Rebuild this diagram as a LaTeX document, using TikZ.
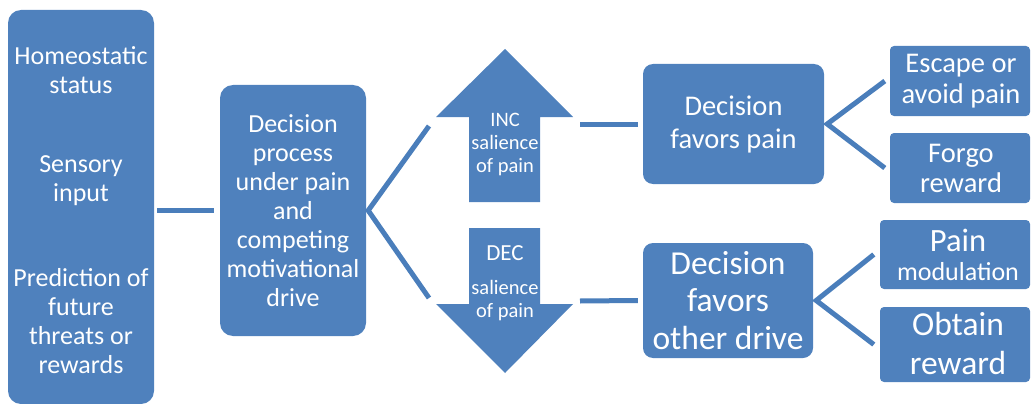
\documentclass[tikz,border=0pt]{standalone}
\usepackage{fontspec}
\setmainfont{Carlito}
\definecolor{boxblue}{HTML}{4F81BD}
\definecolor{lineblue}{HTML}{4A7EBB}
\newcommand\fsz[2]{\fontsize{#1}{#2}\selectfont}
\begin{document}
\begin{tikzpicture}[x=1pt,y=-1pt,
  blk/.style={fill=boxblue, inner sep=0pt},
  txt/.style={text=white, inner sep=0pt, align=center},
  conn/.style={draw=lineblue, line width=5pt}]
\useasboundingbox (0,0) rectangle (1031,404);
% boxes
\node[blk, rounded corners=13pt, minimum width=146pt, minimum height=394pt] (L) at (81,207) {};
\node[blk, rounded corners=13pt, minimum width=146pt, minimum height=251pt] (M) at (293,210.5) {};
\node[blk, rounded corners=10pt, minimum width=181pt, minimum height=120pt] (P) at (733.5,124) {};
\node[blk, rounded corners=10pt, minimum width=170pt, minimum height=115pt] (O) at (728,300.5) {};
\node[blk, rounded corners=4pt, minimum width=140pt, minimum height=70pt] (E) at (960,81) {};
\node[blk, rounded corners=4pt, minimum width=140pt, minimum height=70pt] (F) at (960,168) {};
\node[blk, rounded corners=4pt, minimum width=150pt, minimum height=69pt] (PM) at (955,254.5) {};
\node[blk, rounded corners=4pt, minimum width=150pt, minimum height=75pt] (OR) at (955,344.5) {};
% arrows
\fill[boxblue] (505,49) -- (573,117) -- (540,117) -- (540,202) -- (469,202) -- (469,117) -- (436,117) -- cycle;
\fill[boxblue] (469,228) -- (540,228) -- (540,304) -- (573,304) -- (505,373) -- (436,304) -- (469,304) -- cycle;
% texts
\node[txt, font=\fsz{26}{29}] (L1) at (81,70.5) {Homeostatic\\status};
\node[txt, font=\fsz{26}{29}] (L2) at (81,181) {Sensory\\input};
\node[txt, font=\fsz{26}{29}] (L3) at (81,321) {Prediction of\\future\\threats or\\rewards};
\node[txt, font=\fsz{26}{29}] (MT) at (M.center) {Decision\\process\\under pain\\and\\competing\\motivational\\drive};
\node[txt, font=\fsz{20.5}{23}] (UT) at (505,144) {INC\\salience\\of pain};
\node[txt, font=\fsz{23}{26}] (DT1) at (505,253) {DEC};
\node[txt, font=\fsz{20.5}{23}] (DT2) at (505,300.5) {salience\\of pain};
\node[txt, font=\fsz{28.5}{33}] (PT) at (P.center) {Decision\\favors pain};
\node[txt, font=\fsz{33.5}{37.5}] (OT) at (O.center) {Decision\\favors\\other drive};
\node[txt, font=\fsz{28.5}{31}] (ET) at (961,81) {Escape or\\avoid pain};
\node[txt, font=\fsz{28.5}{30}] (FT) at (961,168) {Forgo\\reward};
\node[txt, font=\fsz{32.5}{32}] (PMT1) at (958,240) {Pain};
\node[txt, font=\fsz{26}{30}] (PMT2) at (958,272) {modulation};
\node[txt, font=\fsz{33.5}{39}] (ORT) at (958,343) {Obtain\\reward};
% connectors
\coordinate (c1) at (429,126);
\coordinate (c2) at (429,298);
\coordinate (u) at (580,124);
\coordinate (d) at (580,301);
\draw[conn] ([xshift=3pt]L.east |- M.west) -- ([xshift=-6pt]M.west);
\draw[conn] (c1) -- ([xshift=2pt]M.east) -- (c2);
\draw[conn] (u) -- ([xshift=-5pt]P.west);
\draw[conn] (d) -- ([xshift=-5pt]O.west);
\draw[conn] ([xshift=-5pt]E.west) -- ([xshift=3pt]P.east) -- ([xshift=-5pt]F.west);
\draw[conn] ([xshift=-6pt]PM.west) -- ([xshift=3pt]O.east) -- ([xshift=-6pt]OR.west);
\end{tikzpicture}
\end{document}
